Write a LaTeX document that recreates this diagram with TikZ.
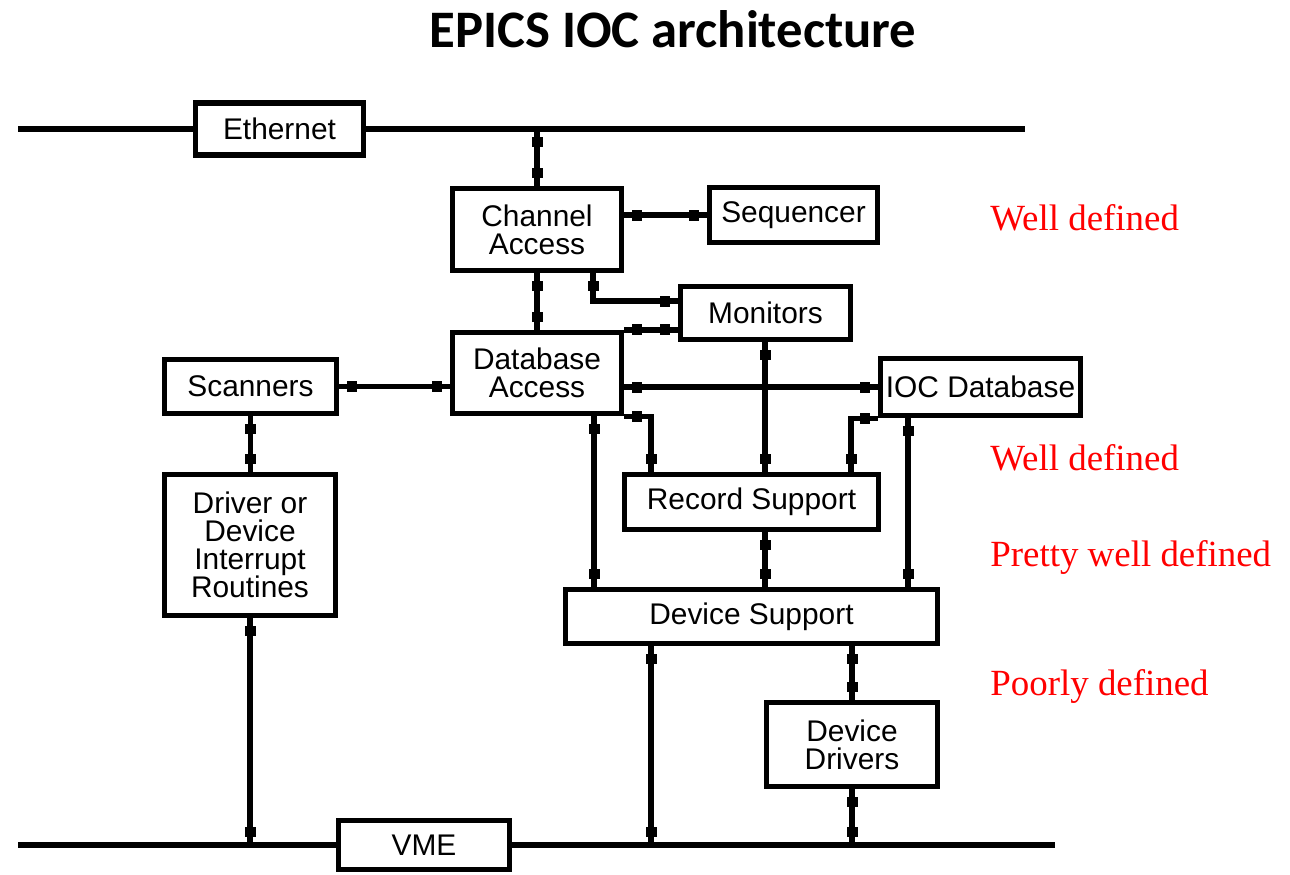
\documentclass[tikz,border=0pt]{standalone}
\usepackage{fontspec}
\setmainfont{Liberation Sans}
\newfontfamily\titlefont{Carlito}
\newfontfamily\notefont{Liberation Serif}
\usetikzlibrary{decorations.markings}

\begin{document}
\begin{tikzpicture}[
  blk/.style={draw=black,line width=3.2pt,fill=white,inner sep=0pt,align=center,font=\fontsize{17}{16}\selectfont},
  bus/.style={line width=3.2pt},
  link/.style={line width=3.2pt,postaction={decorate},decoration={markings,
    mark=at position 0.26cm with {\fill (-0.1,-0.11) rectangle (0.1,0.11);},
    mark=at position -0.26cm with {\fill (-0.1,-0.11) rectangle (0.1,0.11);}}},
  note/.style={anchor=base west,inner sep=0pt,text=red,font=\notefont\fontsize{21}{24}\selectfont}
]
\useasboundingbox (0,0) rectangle (25.8,-17.48);

\node[anchor=base,font=\titlefont\bfseries\fontsize{30}{36}\selectfont] (title) at (13.46,-0.94) {EPICS IOC architecture};

% blocks
\node[blk,minimum width=3.36cm,minimum height=1.04cm] (eth) at (5.59,-2.58) {Ethernet};
\node[blk,minimum width=3.38cm,minimum height=1.64cm] (ca) at (10.74,-4.59) {Channel\\Access};
\node[blk,minimum width=3.36cm,minimum height=1.10cm] (seq) at (15.87,-4.30) {Sequencer};
\node[blk,minimum width=3.40cm,minimum height=1.06cm] (mon) at (15.31,-6.26) {Monitors};
\node[blk,minimum width=3.38cm,minimum height=1.62cm] (dba) at (10.74,-7.46) {Database\\Access};
\node[blk,minimum width=3.44cm,minimum height=1.08cm] (scan) at (5.01,-7.73) {Scanners};
\node[blk,minimum width=4.00cm,minimum height=1.14cm] (iocdb) at (19.61,-7.74) {IOC Database};
\node[blk,minimum width=5.08cm,minimum height=1.10cm] (rs) at (15.03,-10.04) {Record Support};
\node[blk,minimum width=3.42cm,minimum height=2.82cm] (drv) at (5.00,-10.90) {Driver or\\Device\\Interrupt\\Routines};
\node[blk,minimum width=7.44cm,minimum height=1.08cm] (ds) at (15.03,-12.33) {Device Support};
\node[blk,minimum width=3.42cm,minimum height=1.68cm] (dd) at (17.04,-14.89) {Device\\Drivers};
\node[blk,minimum width=3.42cm,minimum height=0.98cm] (vme) at (8.48,-16.90) {VME};

% buses
\coordinate (ethL) at (0.36,-2.58);
\coordinate (ethR) at (20.50,-2.58);
\coordinate (vmeL) at (0.36,-16.90);
\coordinate (vmeR) at (21.10,-16.90);
\draw[bus] (ethL) -- (eth.west);
\draw[bus] (eth.east) -- (ethR);
\draw[bus] (vmeL) -- (vme.west);
\draw[bus] (vme.east) -- (vmeR);

% connections
\draw[link] (ca.north |- ethL) -- (ca.north);
\draw[link] (ca.east |- seq.west) -- (seq.west);
\draw[link] (11.86,0 |- ca.south) |- (mon.west |- 0,-6.02);
\draw[link] (ca.south) -- (dba.north);
\draw[link] (dba.north east) -- (dba.north east -| mon.west);
\draw[link] (scan.east) -- (scan.east -| dba.west);
\draw[link] (dba.east |- iocdb.west) -- (iocdb.west);
\draw[link] (mon.south -| 15.30,0) -- (rs.north -| 15.30,0);
\draw[link] (dba.south east) -| (rs.north -| 13.02,0);
\draw[link] (iocdb.south west) -| (rs.north -| 17.02,0);
\draw[link] (dba.south -| 11.88,0) -- (ds.north -| 11.88,0);
\draw[link] (iocdb.south -| 18.16,0) -- (ds.north -| 18.16,0);
\draw[link] (rs.south -| 15.30,0) -- (ds.north -| 15.30,0);
\draw[link] (ds.south -| 13.02,0) -- (vmeL -| 13.02,0);
\draw[link] (dd.north |- ds.south) -- (dd.north);
\draw[link] (dd.south) -- (dd.south |- vmeL);
\draw[link] (drv.south) -- (drv.south |- vmeL);
\draw[link] (scan.south) -- (scan.south |- drv.north);

% notes
\node[note] (n1) at (19.80,-4.60) {Well defined};
\node[note] (n2) at (19.80,-9.40) {Well defined};
\node[note] (n3) at (19.80,-11.32) {Pretty well defined};
\node[note] (n4) at (19.80,-13.90) {Poorly defined};
\end{tikzpicture}
\end{document}
